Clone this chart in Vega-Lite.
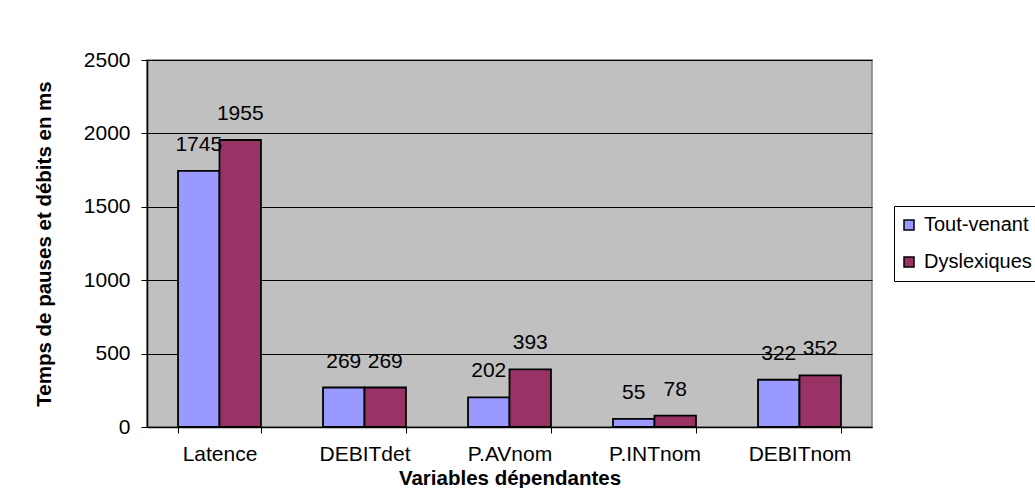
{
  "$schema": "https://vega.github.io/schema/vega-lite/v6.json",
  "autosize": "none",
  "padding": {"left": 147, "top": 60, "right": 163, "bottom": 61},
  "width": 725,
  "height": 367,
  "background": "white",
  "config": {
    "font": "Liberation Sans",
    "view": {"fill": "#C0C0C0", "stroke": "#808080", "strokeWidth": 1.5}
  },
  "data": {
    "values": [
      {"variable": "Latence", "groupe": "Tout-venant", "temps": 1745},
      {"variable": "Latence", "groupe": "Dyslexiques", "temps": 1955},
      {"variable": "DEBITdet", "groupe": "Tout-venant", "temps": 269},
      {"variable": "DEBITdet", "groupe": "Dyslexiques", "temps": 269},
      {"variable": "P.AVnom", "groupe": "Tout-venant", "temps": 202},
      {"variable": "P.AVnom", "groupe": "Dyslexiques", "temps": 393},
      {"variable": "P.INTnom", "groupe": "Tout-venant", "temps": 55},
      {"variable": "P.INTnom", "groupe": "Dyslexiques", "temps": 78},
      {"variable": "DEBITnom", "groupe": "Tout-venant", "temps": 322},
      {"variable": "DEBITnom", "groupe": "Dyslexiques", "temps": 352}
    ]
  },
  "encoding": {
    "x": {
      "field": "variable",
      "type": "nominal",
      "sort": ["Latence", "DEBITdet", "P.AVnom", "P.INTnom", "DEBITnom"],
      "scale": {"paddingInner": 0.428, "paddingOuter": 0.214},
      "axis": {
        "title": "Variables dépendantes",
        "titleFont": "Liberation Sans",
        "titleFontSize": 20.5,
        "titleFontWeight": "bold",
        "titleColor": "black",
        "titlePadding": 4,
        "labelAngle": 0,
        "labelFontSize": 21,
        "labelColor": "black",
        "labelPadding": 10,
        "tickBand": "extent",
        "tickColor": "black",
        "tickSize": 6,
        "domainColor": "black",
        "domainWidth": 1.5
      }
    },
    "xOffset": {
      "field": "groupe",
      "type": "nominal",
      "sort": ["Tout-venant", "Dyslexiques"],
      "scale": {"paddingInner": 0, "paddingOuter": 0}
    },
    "y": {
      "field": "temps",
      "type": "quantitative",
      "scale": {"domain": [0, 2500], "nice": false},
      "axis": {
        "title": "Temps de pauses et débits en ms",
        "titleFont": "Liberation Sans",
        "titleFontSize": 20.5,
        "titleFontWeight": "bold",
        "titleColor": "black",
        "titleX": -103,
        "titleBaseline": "middle",
        "values": [0, 500, 1000, 1500, 2000, 2500],
        "format": "d",
        "labelFontSize": 21,
        "labelColor": "black",
        "labelPadding": 11,
        "tickColor": "black",
        "tickSize": 6,
        "domainColor": "black",
        "domainWidth": 1.5,
        "gridColor": "black",
        "gridWidth": 1,
        "gridOpacity": 1
      }
    }
  },
  "layer": [
    {
      "mark": {"type": "bar", "stroke": "black", "strokeWidth": 1.8},
      "encoding": {
        "color": {
          "field": "groupe",
          "type": "nominal",
          "sort": ["Tout-venant", "Dyslexiques"],
          "scale": {"domain": ["Tout-venant", "Dyslexiques"], "range": ["#9999FF", "#993366"]},
          "legend": {
            "title": null,
            "orient": "none",
            "legendX": 747,
            "legendY": 146,
            "fillColor": "white",
            "strokeColor": "black",
            "padding": 9,
            "rowPadding": 17,
            "symbolType": "square",
            "symbolSize": 100,
            "symbolOffset": -4,
            "symbolStrokeColor": "black",
            "symbolStrokeWidth": 1.5,
            "symbolOpacity": 1,
            "labelFontSize": 20,
            "labelColor": "black",
            "labelOffset": 5,
            "labelLimit": 300
          }
        }
      }
    },
    {
      "mark": {"type": "text", "fontSize": 21, "color": "black", "baseline": "middle", "dy": -26},
      "encoding": {
        "text": {"field": "temps", "type": "quantitative"}
      }
    }
  ]
}
